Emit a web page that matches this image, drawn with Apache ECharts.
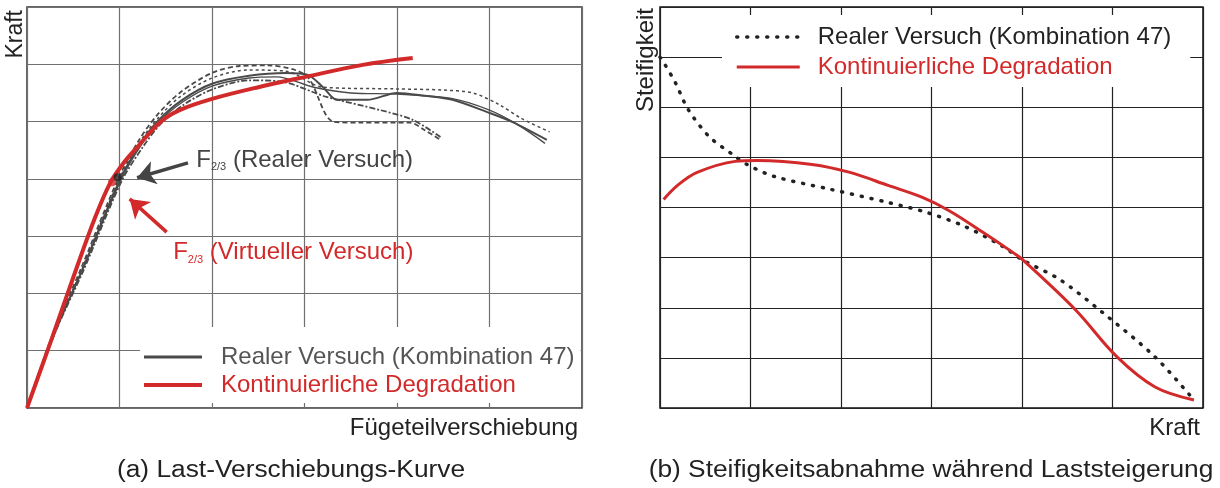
<!DOCTYPE html>
<html>
<head>
<meta charset="utf-8">
<script src="https://cdn.jsdelivr.net/npm/echarts/dist/echarts.min.js"></script>
<style>
html, body { margin: 0; padding: 0; background: #fff; }
#main { width: 1220px; height: 488px; }
</style>
</head>
<body>
<div id="main"></div>
<script>
// (a) Last-Verschiebungs-Kurve: Kraft über Fügeteilverschiebung (Rasterkoordinaten)
var kontDegradationA = [[0,0],[0.27,1.22],[0.52,2.37],[0.735,3.32],[0.9,3.93],[1.05,4.29],[1.19,4.55],[1.44,4.99],[1.65,5.2],[2.01,5.4],[2.5,5.6],[3.01,5.78],[3.63,5.99],[4.17,6.11]];
var realerVersuch1 = [[0,0],[0.3,1.32],[0.6,2.42],[1.0,3.97],[1.22,4.6],[1.42,5.02],[1.68,5.38],[2.0,5.66],[2.4,5.8],[2.8,5.85],[3.03,5.82],[3.2,5.6],[3.35,5.38],[3.68,5.38],[4.0,5.5],[4.3,5.45],[4.6,5.38],[5.0,5.15],[5.25,4.99],[5.62,4.68]];
var realerVersuch2 = [[0,0],[0.28,1.3],[0.58,2.42],[0.98,3.98],[1.2,4.65],[1.4,5.1],[1.65,5.5],[2.0,5.85],[2.3,5.97],[2.6,5.98],[2.9,5.9],[3.05,5.75],[3.31,5.0],[3.6,4.98],[4.14,4.98],[4.3,4.85],[4.47,4.68]];
var realerVersuch3 = [[0,0],[0.3,1.3],[0.61,2.4],[1.02,3.95],[1.25,4.55],[1.45,4.97],[1.7,5.3],[2.0,5.56],[2.4,5.72],[2.74,5.7],[3.24,5.43],[3.82,5.2],[4.17,5.03],[4.47,4.73]];
var realerVersuch4 = [[0,0],[0.29,1.3],[0.59,2.41],[0.99,3.97],[1.21,4.62],[1.41,5.05],[1.66,5.44],[2.0,5.76],[2.4,5.9],[2.8,5.88],[3.2,5.6],[4.0,5.57],[4.5,5.55],[4.82,5.5],[5.1,5.3],[5.35,5.05],[5.65,4.82]];
var realerVersuch5 = [[0,0],[0.3,1.31],[0.6,2.41],[1.01,3.96],[1.23,4.58],[1.43,5.0],[1.69,5.35],[2.0,5.62],[2.4,5.76],[2.7,5.78],[3.1,5.6],[3.5,5.5],[4.0,5.48],[4.6,5.4],[5.0,5.2],[5.3,4.95],[5.6,4.62]];
var f23Virtuell = [0.92, 3.94];
var f23Real = [0.98, 4.03];

// (b) Steifigkeitsabnahme: Steifigkeit über Kraft
var realerVersuchB = [[0,7.0],[0.055,6.85],[0.17,6.49],[0.31,5.96],[0.54,5.42],[0.8,5.06],[0.96,4.86],[1.26,4.62],[1.89,4.36],[2.52,4.1],[2.95,3.9],[3.37,3.62],[3.79,3.22],[4.0,2.96],[4.42,2.56],[4.88,1.92],[5.47,1.02],[5.9,0.16]];
var kontDegradationB = [[0.04,4.16],[0.2,4.45],[0.41,4.7],[0.83,4.92],[1.08,4.94],[1.68,4.86],[2.1,4.7],[2.52,4.44],[2.9,4.2],[3.2,3.93],[3.58,3.49],[3.91,3.09],[4.0,2.97],[4.59,1.96],[5.05,1.02],[5.47,0.42],[5.9,0.16]];

var nameReal = 'Realer Versuch (Kombination 47)';
var nameKont = 'Kontinuierliche Degradation';
var FONT = 'Liberation Sans, Arial, Helvetica, sans-serif';
var RED = '#d22a2a';
var GRAY = '#4a4a4a';

var myChart = echarts.init(document.getElementById('main'));

function axis(idx, max, color) {
    return {
        type: 'value', gridIndex: idx, min: 0, max: max, interval: 1,
        axisLabel: { show: false }, axisTick: { show: false }, axisLine: { show: false },
        splitLine: { show: true, lineStyle: { color: color, width: 1.2 } }
    };
}

function grayLine(data, type, width) {
    return {
        name: nameReal, type: 'line', xAxisIndex: 0, yAxisIndex: 0,
        data: data, symbol: 'none', smooth: 0.3, z: 2,
        itemStyle: { color: GRAY },
        lineStyle: { color: GRAY, width: width, type: type }
    };
}

function f23Label(x, y, rest, color) {
    return {
        coord: [x, y],
        label: {
            show: true, position: 'right', distance: 0,
            formatter: '{m|F}{s|2/3}{m| ' + rest + '}',
            rich: {
                m: { fontSize: 24, lineHeight: 26, color: color, fontFamily: FONT },
                s: { fontSize: 11, lineHeight: 26, color: color, verticalAlign: 'bottom', fontFamily: FONT }
            }
        }
    };
}

function txt(x, y, s, size, align, rot, sx) {
    return {
        type: 'text', x: x, y: y, rotation: rot || 0, scaleX: sx || 1,
        style: { text: s, font: size + 'px ' + FONT, fill: '#222', align: align, verticalAlign: 'middle' }
    };
}

var option = {
    animation: false,
    textStyle: { fontFamily: FONT },
    grid: [
        { left: 27, top: 7, width: 555, height: 401, show: true, borderColor: '#333', borderWidth: 1.5 },
        { left: 660, top: 7, width: 543, height: 401, show: true, borderColor: '#111', borderWidth: 1.5 }
    ],
    xAxis: [axis(0, 6, '#707070'), axis(1, 6, '#222')],
    yAxis: [axis(0, 7, '#707070'), axis(1, 8, '#222')],
    legend: [
        {
            orient: 'vertical', left: 140, top: 327, itemGap: 2, itemWidth: 58, itemHeight: 14,
            padding: [17, 6, 5, 2], backgroundColor: '#fff', selectedMode: false,
            itemStyle: { opacity: 0 },
            textStyle: { fontSize: 24, lineHeight: 26, fontFamily: FONT, padding: [0, 0, 0, 14] },
            data: [
                { name: nameReal, itemStyle: { opacity: 0 }, lineStyle: { color: GRAY, width: 3, type: 'solid' }, textStyle: { color: '#555' } },
                { name: nameKont, itemStyle: { opacity: 0 }, lineStyle: { color: RED, width: 4, type: 'solid' }, textStyle: { color: RED } }
            ]
        },
        {
            orient: 'vertical', left: 722, top: 15, itemGap: 2, itemWidth: 63, itemHeight: 14,
            padding: [8, 19, 6, 13], backgroundColor: '#fff', selectedMode: false,
            itemStyle: { opacity: 0 },
            textStyle: { fontSize: 24, lineHeight: 28, fontFamily: FONT, padding: [0, 0, 0, 13] },
            data: [
                { name: nameReal, itemStyle: { opacity: 0 }, lineStyle: { color: '#222', width: 3.5, type: [1, 9], cap: 'round' }, textStyle: { color: '#222' } },
                { name: nameKont, itemStyle: { opacity: 0 }, lineStyle: { color: RED, width: 3, type: 'solid' }, textStyle: { color: RED } }
            ]
        }
    ],
    graphic: [
        txt(16, 10, 'Kraft', 23, 'right', Math.PI / 2),
        txt(578, 428, 'Fügeteilverschiebung', 24, 'right'),
        txt(291, 471, '(a) Last-Verschiebungs-Kurve', 23.5, 'center', 0, 1.12),
        txt(646, 8, 'Steifigkeit', 24, 'right', Math.PI / 2),
        txt(1200, 428, 'Kraft', 24, 'right'),
        txt(931, 471, '(b) Steifigkeitsabnahme während Laststeigerung', 23.5, 'center', 0, 1.12)
    ],
    series: [
        grayLine(realerVersuch1, 'solid', 2),
        grayLine(realerVersuch2, [5, 3], 1.8),
        grayLine(realerVersuch3, [6, 2, 2, 2], 1.8),
        grayLine(realerVersuch4, [3, 3], 1.5),
        grayLine(realerVersuch5, 'solid', 1.4),
        {
            name: nameKont, type: 'line', xAxisIndex: 0, yAxisIndex: 0,
            data: kontDegradationA, symbol: 'none', smooth: 0.35, z: 3,
            itemStyle: { color: RED },
            lineStyle: { color: RED, width: 4 }
        },
        {
            name: 'F2/3', type: 'scatter', xAxisIndex: 0, yAxisIndex: 0, z: 5, silent: true,
            symbolSize: 8,
            data: [
                { value: f23Virtuell, itemStyle: { color: RED } },
                { value: f23Real, itemStyle: { color: '#222' } }
            ],
            markLine: {
                silent: true, symbol: ['none', 'arrow'], symbolSize: 18,
                label: { show: false },
                data: [
                    [{ coord: [1.74, 4.28], lineStyle: { color: '#444', width: 3.5, type: 'solid' }, itemStyle: { color: '#444' } }, { coord: [1.19, 4.02] }],
                    [{ coord: [1.51, 3.07], lineStyle: { color: RED, width: 3.5, type: 'solid' }, itemStyle: { color: RED } }, { coord: [1.11, 3.65] }]
                ]
            },
            markPoint: {
                silent: true, symbol: 'circle', symbolSize: 0,
                data: [
                    f23Label(1.83, 4.33, '(Realer Versuch)', '#444'),
                    f23Label(1.58, 2.72, '(Virtueller Versuch)', RED)
                ]
            }
        },
        {
            name: nameReal, type: 'line', xAxisIndex: 1, yAxisIndex: 1,
            data: realerVersuchB, symbol: 'none', smooth: 0.3, z: 3,
            itemStyle: { color: '#222' },
            lineStyle: { color: '#222', width: 3.5, type: [1, 9], cap: 'round' }
        },
        {
            name: nameKont, type: 'line', xAxisIndex: 1, yAxisIndex: 1,
            data: kontDegradationB, symbol: 'none', smooth: 0.35, z: 3,
            itemStyle: { color: RED },
            lineStyle: { color: RED, width: 3 }
        }
    ]
};

myChart.setOption(option);
window.addEventListener('resize', function () {
    myChart.resize();
});
</script>
</body>
</html>
